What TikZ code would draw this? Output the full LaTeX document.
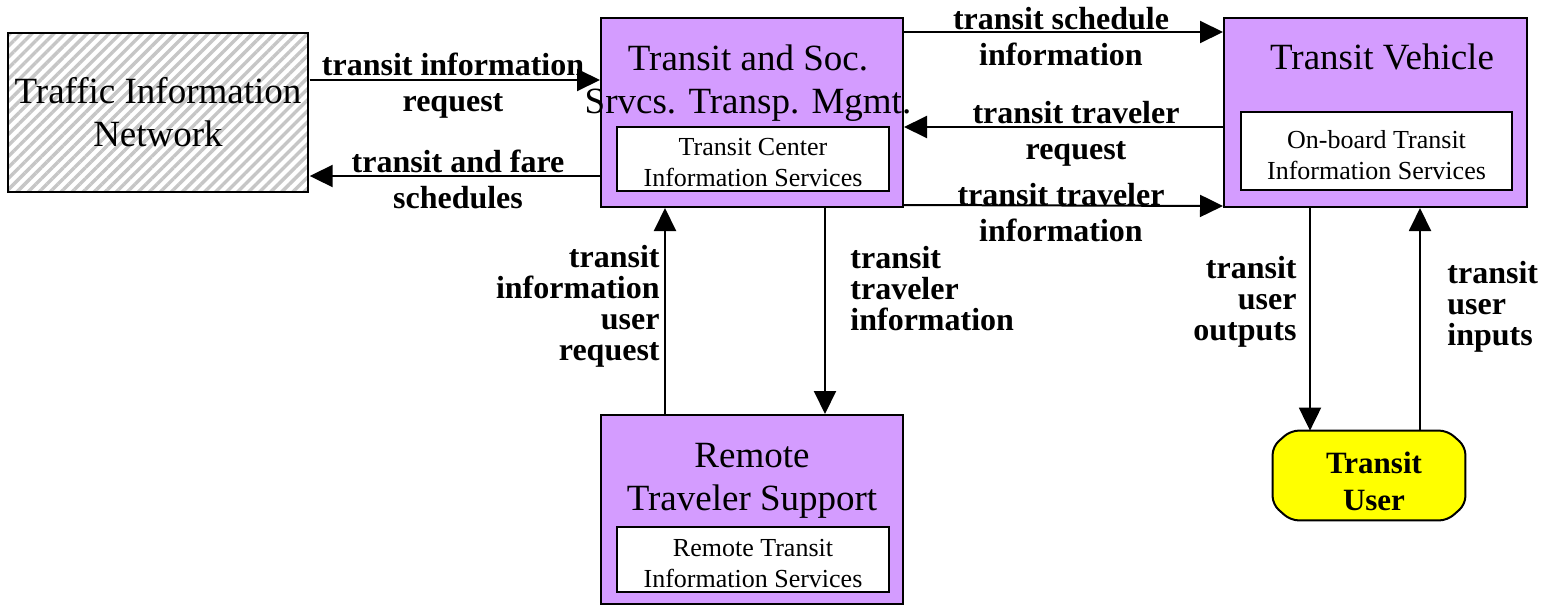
\documentclass[tikz,border=0pt]{standalone}
\usepackage{fontspec}
\setmainfont{Liberation Serif}
\usetikzlibrary{arrows.meta,patterns.meta}
\definecolor{sysfill}{HTML}{D49CFF}
\definecolor{usrfill}{HTML}{FFFF00}
\tikzset{
  flow/.style={-{Triangle[length=11.5pt, width=11pt]}, line width=1pt},
  sysbox/.style={draw, fill=sysfill, line width=1pt, inner sep=0pt, minimum width=151pt, minimum height=94.5pt},
  svcbox/.style={draw, fill=white, line width=1pt, inner sep=0pt},
  svctxt/.style={inner sep=0pt, align=center, font=\fontsize{13}{15.5}\selectfont},
  extbox/.style={draw, line width=1pt, inner sep=0pt, align=center,
    pattern={Lines[angle=45, distance=3.9pt, line width=1.7pt]}, pattern color=gray!45},
  userarea/.style={inner sep=0pt, minimum width=96pt, minimum height=44.5pt},
  useredge/.style={draw, fill=usrfill, line width=1pt, rounded corners=4pt},
  ttl/.style={font=\fontsize{18.5}{21.5}\selectfont, inner sep=0pt, align=center},
  flab/.style={font=\fontsize{16}{18}\selectfont\bfseries, inner sep=0pt, align=center},
  vlab/.style={font=\fontsize{16}{15.5}\selectfont\bfseries, inner sep=0pt},
}

\begin{document}
\begin{tikzpicture}[x=0.5pt,y=-0.5pt]
\useasboundingbox (0,0) rectangle (1543,606);

% ---- boxes ----
\node[extbox, ttl, minimum width=150pt, minimum height=79.5pt] (tin) at (158,112.5)
  {Traffic Information\\Network};

\node[sysbox] (tsm) at (752,112.5) {};
\node[ttl] (tsmT) at (748,83) {Transit and Soc.\\Srvcs. Transp. Mgmt.};
\node[svcbox, minimum width=136pt, minimum height=32pt] (tsmS) at (753,159) {};
\node[svctxt] (tsmST) at (753,163) {Transit Center\\Information Services};

\node[sysbox, minimum width=151.5pt] (tv) at (1375.5,112.5) {};
\node[ttl] (tvT) at (1382,57) {Transit Vehicle};
\node[svcbox, minimum width=135.5pt, minimum height=39pt] (tvS) at (1376.5,151) {};
\node[svctxt] (tvST) at (1376.5,155.5) {On-board Transit\\Information Services};

\node[sysbox] (rts) at (752,509.5) {};
\node[ttl] (rtsT) at (752,481) {Remote\\Traveler Support};
\node[svcbox, minimum width=136pt, minimum height=32.5pt] (rtsS) at (753,559.5) {};
\node[svctxt] (rtsST) at (753,564) {Remote Transit\\Information Services};

% terminator: clipped-corner box
\node[userarea] (tu) at (1369,475.5) {};
\draw[useredge] ([xshift=9pt]tu.north west) -- ([xshift=-9pt]tu.north east)
  -- ([yshift=-8pt]tu.north east) -- ([yshift=8pt]tu.south east)
  -- ([xshift=-9pt]tu.south east) -- ([xshift=9pt]tu.south west)
  -- ([yshift=8pt]tu.south west) -- ([yshift=-8pt]tu.north west) -- cycle;
\node[flab, font=\fontsize{15.5}{18.5}\selectfont\bfseries] (tuT) at (1374,481.5) {Transit\\User};

% ---- flows ----
\draw[flow] (tin.east |- 0,80) -- (tsm.west |- 0,80);
\draw[flow] (tsm.west |- 0,176) -- (tin.east |- 0,176);
\draw[flow] (tsm.east |- 0,32) -- (tv.west |- 0,32);
\draw[flow] (tv.west |- 0,127) -- (tsm.east |- 0,127);
\draw[flow] (tsm.east |- 0,205) -- (tv.west |- 0,206);
\draw[flow] (rts.north -| 665,0) -- (tsm.south -| 665,0);
\draw[flow] (tsm.south -| 825,0) -- (rts.north -| 825,0);
\draw[flow] (tv.south -| 1310,0) -- (tu.north -| 1310,0);
\draw[flow] (tu.north -| 1420,0) -- (tv.south -| 1420,0);

% ---- flow labels ----
\node[flab] (lbRq) at (453,86) {transit information\\request};
\node[flab] (lbFs) at (458,179.5) {transit and fare\\schedules};
\node[flab] (lbSi) at (1061,36.5) {transit schedule\\information};
\node[flab] (lbTr) at (1076,134) {transit traveler\\request};
\node[flab] (lbTi) at (1061,212.5) {transit traveler\\information};
\node[vlab, align=right, anchor=east] (lbUr) at (660,306) {transit\\information\\user\\request};
\node[vlab, align=left, anchor=west] (lbTv) at (850,289) {transit\\traveler\\information};
\node[vlab, align=right, anchor=east] (lbUo) at (1297,302) {transit\\user\\outputs};
\node[vlab, align=left, anchor=west] (lbUi) at (1447,307) {transit\\user\\inputs};

\end{tikzpicture}
\end{document}
